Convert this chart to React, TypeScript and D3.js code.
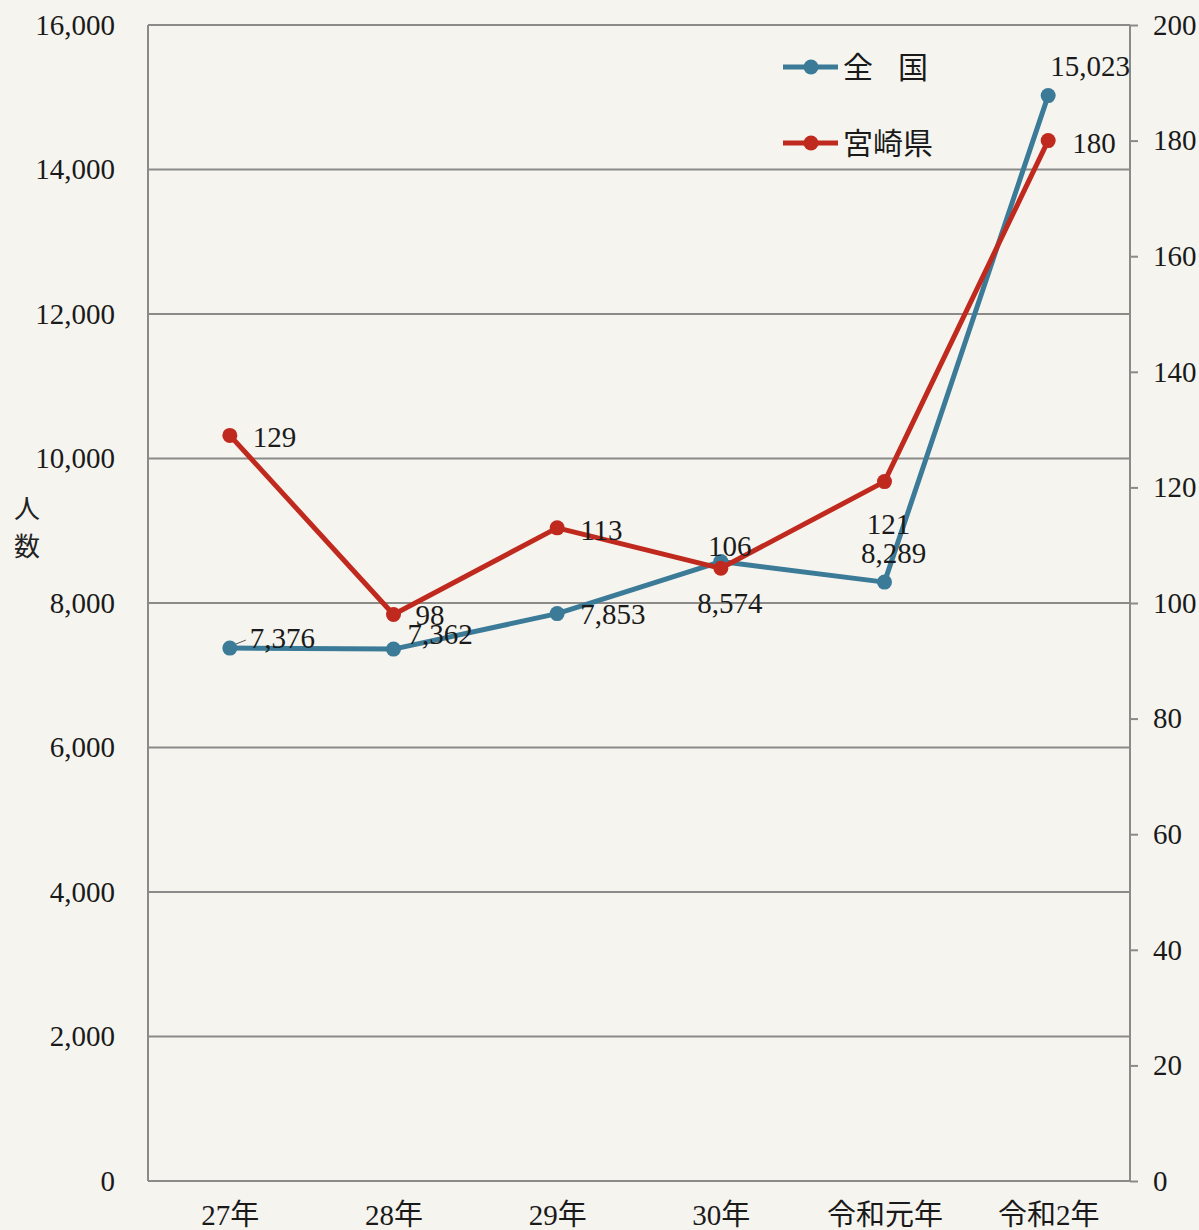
// @ts-nocheck
import React, { useRef, useEffect } from "react";
import * as d3 from "d3";

const years = ["27年", "28年", "29年", "30年", "令和元年", "令和2年"];
const zenkoku = [7376, 7362, 7853, 8574, 8289, 15023];
const miyazaki = [129, 98, 113, 106, 121, 180];
const leftTicks = [0, 2000, 4000, 6000, 8000, 10000, 12000, 14000, 16000];
const rightTicks = [0, 20, 40, 60, 80, 100, 120, 140, 160, 180, 200];

// label placement relative to each point: [dx, dy, anchor]
const zenkokuLabelPos = [
  [20, -10, "start"],
  [14, -15, "start"],
  [23, 0, "start"],
  [9, 41, "middle"],
  [9, -29, "middle"],
  [2, -30, "start"],
];
const miyazakiLabelPos = [
  [23, 1, "start"],
  [22, 0, "start"],
  [23, 2, "start"],
  [9, -22, "middle"],
  [4, 42, "middle"],
  [24, 2, "start"],
];

const BLUE = "#3b7b98";
const RED = "#c02a1e";
const NUM_FONT = "'Liberation Serif', 'DejaVu Serif', serif";
const JP_FONT = "'Liberation Serif', 'Noto Sans CJK JP', serif";

const LineChart = ({ width = 1199, height = 1230 }) => {
  const svgRef = useRef(null);

  useEffect(() => {
    document.body.style.margin = "0";
    const svg = d3.select(svgRef.current);
    svg.selectAll("*").remove();

    const marginTop = 25,
      marginRight = 69,
      marginBottom = 49,
      marginLeft = 148;

    const x = d3
      .scalePoint()
      .domain(years)
      .range([marginLeft, width - marginRight])
      .padding(0.5);

    const yL = d3
      .scaleLinear()
      .domain([0, 16000])
      .range([height - marginBottom, marginTop]);

    const yR = d3
      .scaleLinear()
      .domain([0, 200])
      .range([height - marginBottom, marginTop]);

    svg
      .attr("width", width)
      .attr("height", height)
      .attr("viewBox", [0, 0, width, height]);

    svg
      .append("rect")
      .attr("width", width)
      .attr("height", height)
      .attr("fill", "#f5f4ef");

    // grid lines
    svg
      .append("g")
      .selectAll("line")
      .data(leftTicks)
      .join("line")
      .attr("x1", marginLeft)
      .attr("x2", width - marginRight)
      .attr("y1", (d) => yL(d))
      .attr("y2", (d) => yL(d))
      .attr("stroke", "#8a8a88")
      .attr("stroke-width", 2);

    // left and right frame
    [marginLeft, width - marginRight].forEach((xx) => {
      svg
        .append("line")
        .attr("x1", xx)
        .attr("x2", xx)
        .attr("y1", marginTop)
        .attr("y2", height - marginBottom)
        .attr("stroke", "#8a8a88")
        .attr("stroke-width", 2);
    });

    // left axis
    svg
      .append("g")
      .attr("transform", `translate(${marginLeft},0)`)
      .call(
        d3
          .axisLeft(yL)
          .tickValues(leftTicks)
          .tickSize(0)
          .tickPadding(33)
          .tickFormat(d3.format(","))
      )
      .call((g) => g.select(".domain").remove())
      .call((g) =>
        g
          .selectAll("text")
          .attr("font-family", NUM_FONT)
          .attr("font-size", 29)
          .attr("fill", "#1a1a1a")
      );

    // right axis
    svg
      .append("g")
      .attr("transform", `translate(${width - marginRight},0)`)
      .call(d3.axisRight(yR).tickValues(rightTicks).tickSize(8).tickPadding(15))
      .call((g) => g.select(".domain").remove())
      .call((g) => g.selectAll("line").attr("stroke", "#8a8a88").attr("stroke-width", 2))
      .call((g) =>
        g
          .selectAll("text")
          .attr("font-family", NUM_FONT)
          .attr("font-size", 29)
          .attr("fill", "#1a1a1a")
      );

    // bottom axis labels
    svg
      .append("g")
      .attr("transform", `translate(0,${height - marginBottom})`)
      .call(d3.axisBottom(x).tickSize(0).tickPadding(23))
      .call((g) => g.select(".domain").remove())
      .call((g) =>
        g
          .selectAll("text")
          .attr("font-family", JP_FONT)
          .attr("font-size", 29)
          .attr("fill", "#1a1a1a")
      );

    // y axis title
    svg
      .append("g")
      .selectAll("text")
      .data(["人", "数"])
      .join("text")
      .attr("x", 27)
      .attr("y", (d, i) => 518 + i * 38)
      .attr("text-anchor", "middle")
      .attr("font-family", JP_FONT)
      .attr("font-size", 26)
      .attr("fill", "#222")
      .text((d) => d);

    const seriesList = [
      { values: zenkoku, scale: yL, color: BLUE, labels: zenkokuLabelPos, fmt: d3.format(",") },
      { values: miyazaki, scale: yR, color: RED, labels: miyazakiLabelPos, fmt: d3.format("d") },
    ];

    seriesList.forEach((s) => {
      const line = d3
        .line()
        .x((d, i) => x(years[i]))
        .y((d) => s.scale(d));

      svg
        .append("path")
        .datum(s.values)
        .attr("fill", "none")
        .attr("stroke", s.color)
        .attr("stroke-width", 5)
        .attr("stroke-linejoin", "round")
        .attr("d", line);

      svg
        .append("g")
        .selectAll("circle")
        .data(s.values)
        .join("circle")
        .attr("cx", (d, i) => x(years[i]))
        .attr("cy", (d) => s.scale(d))
        .attr("r", 7.5)
        .attr("fill", s.color);
    });

    // small leader mark next to the first 全国 label
    svg
      .append("line")
      .attr("x1", x(years[0]) + 6)
      .attr("x2", x(years[0]) + 16)
      .attr("y1", yL(zenkoku[0]) - 4)
      .attr("y2", yL(zenkoku[0]) - 8)
      .attr("stroke", "#555")
      .attr("stroke-width", 1);

    // data labels
    seriesList.forEach((s) => {
      svg
        .append("g")
        .selectAll("text")
        .data(s.values)
        .join("text")
        .attr("x", (d, i) => x(years[i]) + s.labels[i][0])
        .attr("y", (d, i) => s.scale(d) + s.labels[i][1])
        .attr("dy", "0.35em")
        .attr("text-anchor", (d, i) => s.labels[i][2])
        .attr("font-family", NUM_FONT)
        .attr("font-size", 29)
        .attr("fill", "#1a1a1a")
        .text((d) => s.fmt(d));
    });

    // legend
    const legend = svg
      .append("g")
      .selectAll("g")
      .data([
        { name: ["全", "国"], color: BLUE, y: 67 },
        { name: ["宮崎県"], color: RED, y: 143 },
      ])
      .join("g")
      .attr("transform", (d) => `translate(783,${d.y})`);

    legend
      .append("line")
      .attr("x1", 0)
      .attr("x2", 55)
      .attr("stroke", (d) => d.color)
      .attr("stroke-width", 5);
    legend
      .append("circle")
      .attr("cx", 28)
      .attr("r", 7.5)
      .attr("fill", (d) => d.color);
    legend
      .append("text")
      .attr("dy", "0.35em")
      .attr("font-family", JP_FONT)
      .attr("font-size", 30)
      .attr("fill", "#1a1a1a")
      .selectAll("tspan")
      .data((d) => d.name)
      .join("tspan")
      .attr("x", (d, i) => 60 + i * 55)
      .text((d) => d);
  }, [width, height]);

  return <svg ref={svgRef} style={{ display: "block" }}></svg>;
};

export default function App() {
  return <LineChart />;
}
